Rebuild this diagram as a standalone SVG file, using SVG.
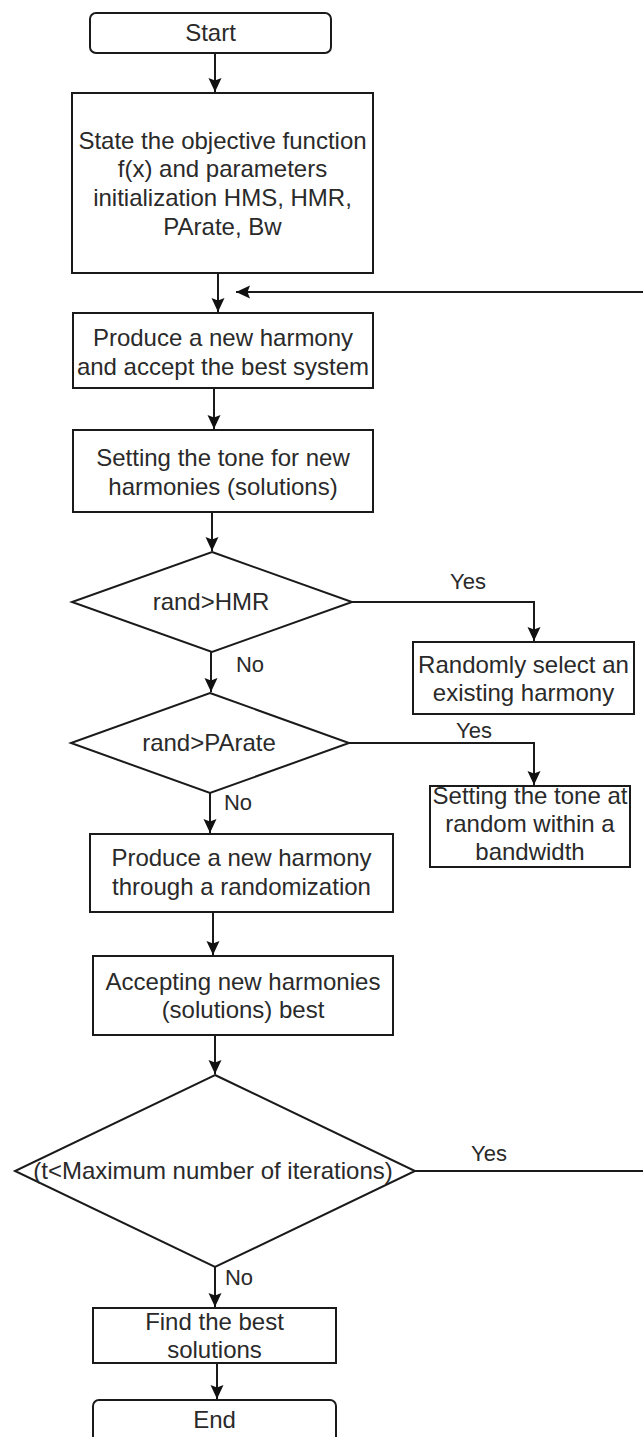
<svg xmlns="http://www.w3.org/2000/svg" width="643" height="1437" viewBox="0 0 643 1437">
<defs>
<marker id="arr" markerUnits="userSpaceOnUse" markerWidth="16" markerHeight="14" refX="14" refY="7" orient="auto">
<path d="M0,0.5 L14,7 L0,13.5 L2.5,7 z" fill="#111"/>
</marker>
<style>
.n{fill:#fff;stroke:#1a1a1a;stroke-width:2}
.t{font-family:"Liberation Sans",Arial,sans-serif;font-size:24px;fill:#2a2a2a;text-anchor:middle}
.l{font-family:"Liberation Sans",Arial,sans-serif;font-size:22px;fill:#2a2a2a;text-anchor:middle}
.c{fill:none;stroke:#1a1a1a;stroke-width:2;marker-end:url(#arr)}
</style>
</defs>
<rect width="643" height="1437" fill="#fff"/>
<g id="connectors">
<path class="c" d="M215,53 V92"/>
<path class="c" d="M218,273 V312"/>
<path class="c" d="M214,388 V429"/>
<path class="c" d="M212,512 V551"/>
<path class="c" d="M211,652 V692"/>
<path class="c" d="M352,602 H534 V641"/>
<path class="c" d="M210,793 V833"/>
<path class="c" d="M349,743 H534 V785"/>
<path class="c" d="M213,912 V955"/>
<path class="c" d="M215,1035 V1074"/>
<path class="c" d="M215,1267 V1307"/>
<path class="c" d="M217,1363 V1399"/>
<path class="c" d="M415,1171 H660 V292 H236"/>
<text class="l" x="468" y="589">Yes</text>
<text class="l" x="250" y="672">No</text>
<text class="l" x="474" y="738">Yes</text>
<text class="l" x="238" y="810">No</text>
<text class="l" x="489" y="1161">Yes</text>
<text class="l" x="239" y="1285">No</text>
</g>
<g id="start">
<rect class="n" x="90" y="13" width="241" height="40" rx="6"/>
<text class="t" x="210.5" y="41">Start</text>
</g>
<g id="init">
<rect class="n" x="72" y="93" width="301" height="180"/>
<text class="t" x="222.5" y="148.5">State the objective function</text>
<text class="t" x="222.5" y="177">f(x) and parameters</text>
<text class="t" x="222.5" y="206">initialization HMS, HMR,</text>
<text class="t" x="222.5" y="234.5">PArate, Bw</text>
</g>
<g id="produce">
<rect class="n" x="73" y="313" width="300" height="75"/>
<text class="t" x="223" y="346">Produce a new harmony</text>
<text class="t" x="223" y="375">and accept the best system</text>
</g>
<g id="tone">
<rect class="n" x="73" y="430" width="300" height="82"/>
<text class="t" x="223" y="466">Setting the tone for new</text>
<text class="t" x="223" y="495">harmonies (solutions)</text>
</g>
<g id="d-hmr">
<polygon class="n" points="212,552 352,602 212,652 72,602"/>
<text class="t" x="211" y="610">rand&gt;HMR</text>
</g>
<g id="random-select">
<rect class="n" x="413" y="642" width="221" height="72"/>
<text class="t" x="523.5" y="673">Randomly select an</text>
<text class="t" x="523.5" y="701">existing harmony</text>
</g>
<g id="d-parate">
<polygon class="n" points="210,693 349,743 210,793 71,743"/>
<text class="t" x="209" y="751">rand&gt;PArate</text>
</g>
<g id="tone-bw">
<rect class="n" x="430" y="786" width="200" height="81"/>
<text class="t" x="530" y="804">Setting the tone at</text>
<text class="t" x="530" y="832">random within a</text>
<text class="t" x="530" y="860">bandwidth</text>
</g>
<g id="randomization">
<rect class="n" x="90" y="834" width="303" height="78"/>
<text class="t" x="241.5" y="866">Produce a new harmony</text>
<text class="t" x="241.5" y="895">through a randomization</text>
</g>
<g id="accept">
<rect class="n" x="93" y="956" width="300" height="79"/>
<text class="t" x="243" y="990">Accepting new harmonies</text>
<text class="t" x="243" y="1018">(solutions) best</text>
</g>
<g id="d-iter">
<polygon class="n" points="215,1075 415,1171 215,1267 15,1171"/>
<text class="t" x="213" y="1179">(t&lt;Maximum number of iterations)</text>
</g>
<g id="best">
<rect class="n" x="93" y="1308" width="243" height="55"/>
<text class="t" x="214.5" y="1330">Find the best</text>
<text class="t" x="214.5" y="1358">solutions</text>
</g>
<g id="end">
<rect class="n" x="93" y="1400" width="243" height="50" rx="6"/>
<text class="t" x="214.5" y="1428">End</text>
</g>
</svg>
